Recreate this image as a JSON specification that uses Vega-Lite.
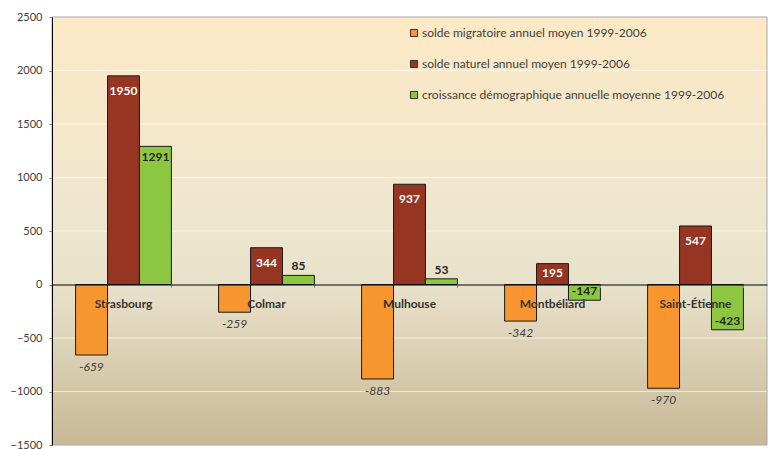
{
  "$schema": "https://vega.github.io/schema/vega-lite/v6.json",
  "width": 715,
  "height": 428,
  "autosize": {"type": "none"},
  "padding": {"left": 52, "top": 17, "right": 2, "bottom": 4},
  "background": "#ffffff",
  "config": {
    "font": "Lato",
    "view": {"stroke": null},
    "text": {"font": "Lato"}
  },
  "datasets": {
    "bars": [
      {"ville": "Strasbourg", "serie": "solde migratoire annuel moyen 1999-2006", "valeur": -659},
      {"ville": "Strasbourg", "serie": "solde naturel annuel moyen 1999-2006", "valeur": 1950},
      {"ville": "Strasbourg", "serie": "croissance démographique annuelle moyenne 1999-2006", "valeur": 1291},
      {"ville": "Colmar", "serie": "solde migratoire annuel moyen 1999-2006", "valeur": -259},
      {"ville": "Colmar", "serie": "solde naturel annuel moyen 1999-2006", "valeur": 344},
      {"ville": "Colmar", "serie": "croissance démographique annuelle moyenne 1999-2006", "valeur": 85},
      {"ville": "Mulhouse", "serie": "solde migratoire annuel moyen 1999-2006", "valeur": -883},
      {"ville": "Mulhouse", "serie": "solde naturel annuel moyen 1999-2006", "valeur": 937},
      {"ville": "Mulhouse", "serie": "croissance démographique annuelle moyenne 1999-2006", "valeur": 53},
      {"ville": "Montbéliard", "serie": "solde migratoire annuel moyen 1999-2006", "valeur": -342},
      {"ville": "Montbéliard", "serie": "solde naturel annuel moyen 1999-2006", "valeur": 195},
      {"ville": "Montbéliard", "serie": "croissance démographique annuelle moyenne 1999-2006", "valeur": -147},
      {"ville": "Saint-Étienne", "serie": "solde migratoire annuel moyen 1999-2006", "valeur": -970},
      {"ville": "Saint-Étienne", "serie": "solde naturel annuel moyen 1999-2006", "valeur": 547},
      {"ville": "Saint-Étienne", "serie": "croissance démographique annuelle moyenne 1999-2006", "valeur": -423}
    ],
    "grid": [
      {"v": -1000}, {"v": -500}, {"v": 500}, {"v": 1000}, {"v": 1500}, {"v": 2000}
    ],
    "fond": [{"a": 1}]
  },
  "encoding": {
    "x": {
      "field": "ville",
      "type": "nominal",
      "sort": ["Strasbourg", "Colmar", "Mulhouse", "Montbéliard", "Saint-Étienne"],
      "scale": {"paddingInner": 0.33, "paddingOuter": 0.165},
      "axis": {
        "title": null,
        "labels": false,
        "offset": -160.5,
        "domainColor": "#000000",
        "tickBand": "extent",
        "tickColor": "#909090",
        "tickSize": 3,
        "zindex": 1
      }
    },
    "y": {
      "type": "quantitative",
      "scale": {"domain": [-1500, 2500], "nice": false, "zero": false},
      "axis": {
        "title": null,
        "values": [-1500, -1000, -500, 0, 500, 1000, 1500, 2000, 2500],
        "format": "d",
        "grid": false,
        "domainColor": "#000000",
        "tickColor": "#808080",
        "tickSize": 3,
        "labelPadding": 7,
        "labelFontSize": 11,
        "labelColor": "#404040",
        "labelFont": "Lato",
        "zindex": 1
      }
    }
  },
  "layer": [
    {
      "data": {"name": "fond"},
      "mark": {
        "type": "rect",
        "stroke": "#a8a8a8",
        "strokeWidth": 1,
        "fill": {
          "gradient": "linear",
          "x1": 0, "y1": 0, "x2": 0, "y2": 1,
          "stops": [
            {"offset": 0, "color": "#fde9c5"},
            {"offset": 0.45, "color": "#eee6ce"},
            {"offset": 0.62, "color": "#e9e2cb"},
            {"offset": 1, "color": "#c8b996"}
          ]
        }
      },
      "encoding": {
        "x": null,
        "y": {"datum": 2500, "type": "quantitative"},
        "y2": {"datum": -1500}
      }
    },
    {
      "data": {"name": "grid"},
      "mark": {"type": "rule", "color": "#ffffff", "opacity": 0.6, "strokeWidth": 1},
      "encoding": {
        "x": null,
        "y": {"field": "v", "type": "quantitative"}
      }
    },
    {
      "data": {"name": "bars"},
      "layer": [
        {
          "mark": {"type": "bar", "stroke": "#1a1a1a", "strokeWidth": 1},
          "encoding": {
            "y": {"field": "valeur", "type": "quantitative"},
            "xOffset": {
              "field": "serie",
              "sort": ["solde migratoire annuel moyen 1999-2006", "solde naturel annuel moyen 1999-2006", "croissance démographique annuelle moyenne 1999-2006"],
              "scale": {"paddingInner": 0, "paddingOuter": 0}
            },
            "color": {
              "field": "serie",
              "type": "nominal",
              "scale": {
                "domain": ["solde migratoire annuel moyen 1999-2006", "solde naturel annuel moyen 1999-2006", "croissance démographique annuelle moyenne 1999-2006"],
                "range": ["#f7962e", "#953522", "#8dc641"]
              },
              "legend": {
                "title": null,
                "orient": "none",
                "legendX": 356,
                "legendY": 10,
                "symbolType": "square",
                "symbolSize": 50,
                "symbolStrokeColor": "#333333",
                "symbolStrokeWidth": 1,
                "labelFont": "Lato",
                "labelFontSize": 12,
                "labelColor": "#404040",
                "labelOffset": 2,
                "rowPadding": 19,
                "labelLimit": 400
              }
            }
          }
        },
        {
          "transform": [{"filter": "datum.serie == 'solde migratoire annuel moyen 1999-2006'"}],
          "mark": {"type": "text", "fontStyle": "italic", "fontSize": 12, "color": "#404040", "dy": 12, "baseline": "middle"},
          "encoding": {
            "y": {"field": "valeur", "type": "quantitative"},
            "xOffset": {
              "field": "serie",
              "sort": ["solde migratoire annuel moyen 1999-2006", "solde naturel annuel moyen 1999-2006", "croissance démographique annuelle moyenne 1999-2006"]
            },
            "text": {"field": "valeur"}
          }
        },
        {
          "transform": [{"filter": "datum.serie == 'solde naturel annuel moyen 1999-2006' && datum.valeur >= 300"}],
          "mark": {"type": "text", "fontWeight": "bold", "fontSize": 12, "color": "#ffffff", "dy": 15, "baseline": "middle"},
          "encoding": {
            "y": {"field": "valeur", "type": "quantitative"},
            "xOffset": {
              "field": "serie",
              "sort": ["solde migratoire annuel moyen 1999-2006", "solde naturel annuel moyen 1999-2006", "croissance démographique annuelle moyenne 1999-2006"]
            },
            "text": {"field": "valeur"}
          }
        },
        {
          "transform": [{"filter": "datum.serie == 'solde naturel annuel moyen 1999-2006' && datum.valeur < 300"}],
          "mark": {"type": "text", "fontWeight": "bold", "fontSize": 12, "color": "#ffffff", "dy": 9, "baseline": "middle"},
          "encoding": {
            "y": {"field": "valeur", "type": "quantitative"},
            "xOffset": {
              "field": "serie",
              "sort": ["solde migratoire annuel moyen 1999-2006", "solde naturel annuel moyen 1999-2006", "croissance démographique annuelle moyenne 1999-2006"]
            },
            "text": {"field": "valeur"}
          }
        },
        {
          "transform": [{"filter": "datum.serie == 'croissance démographique annuelle moyenne 1999-2006' && datum.valeur >= 300"}],
          "mark": {"type": "text", "fontWeight": "bold", "fontSize": 12, "color": "#262626", "dy": 11, "baseline": "middle"},
          "encoding": {
            "y": {"field": "valeur", "type": "quantitative"},
            "xOffset": {
              "field": "serie",
              "sort": ["solde migratoire annuel moyen 1999-2006", "solde naturel annuel moyen 1999-2006", "croissance démographique annuelle moyenne 1999-2006"]
            },
            "text": {"field": "valeur"}
          }
        },
        {
          "transform": [{"filter": "datum.serie == 'croissance démographique annuelle moyenne 1999-2006' && datum.valeur < 300"}],
          "mark": {"type": "text", "fontWeight": "bold", "fontSize": 12, "color": "#262626", "dy": -9, "baseline": "middle"},
          "encoding": {
            "y": {"field": "valeur", "type": "quantitative"},
            "xOffset": {
              "field": "serie",
              "sort": ["solde migratoire annuel moyen 1999-2006", "solde naturel annuel moyen 1999-2006", "croissance démographique annuelle moyenne 1999-2006"]
            },
            "text": {"field": "valeur"}
          }
        },
        {
          "transform": [{"filter": "datum.serie == 'solde naturel annuel moyen 1999-2006'"}],
          "mark": {"type": "text", "fontWeight": "bold", "fontSize": 12, "color": "#333333", "dy": 19, "baseline": "middle"},
          "encoding": {
            "y": {"datum": 0, "type": "quantitative"},
            "text": {"field": "ville"}
          }
        }
      ]
    }
  ]
}
